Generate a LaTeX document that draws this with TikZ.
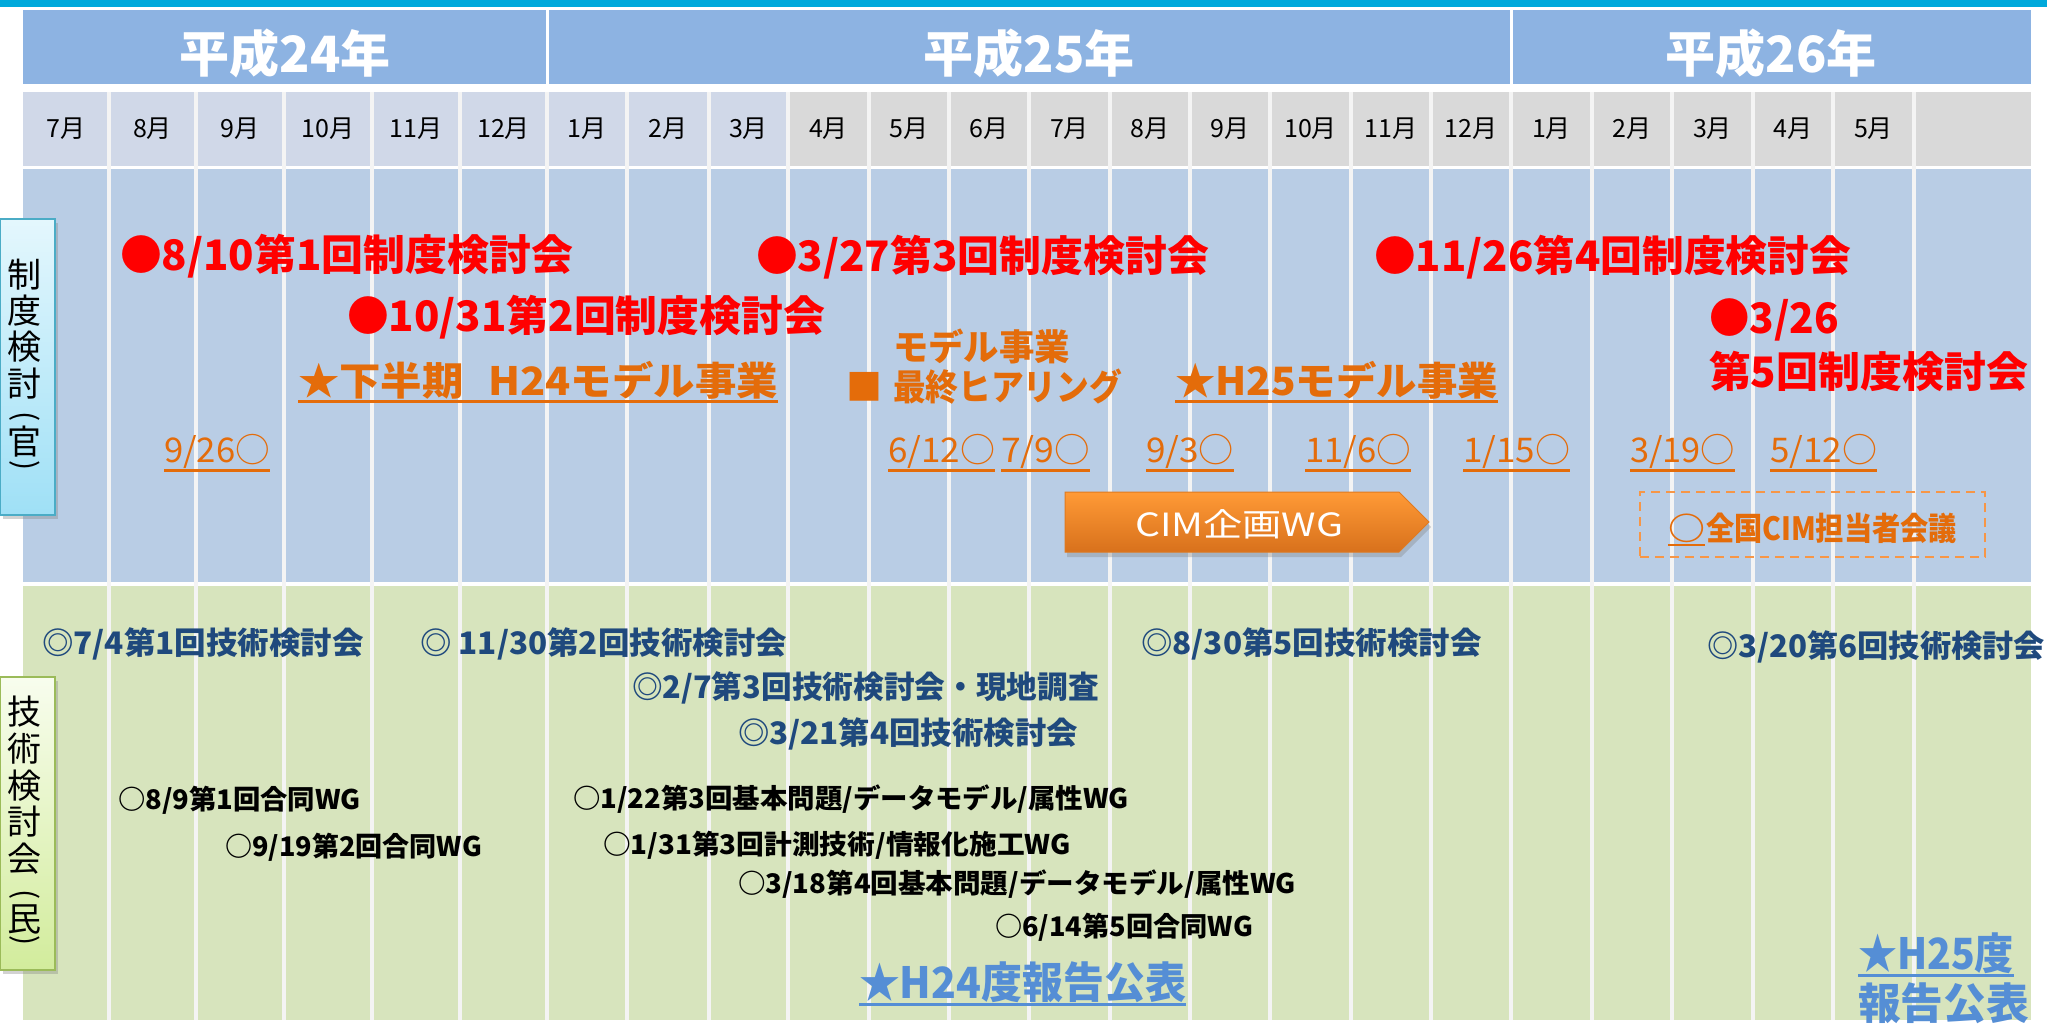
\documentclass[tikz,border=0pt]{standalone}
\usepackage{fontspec}
\usepackage{graphicx}
\setmainfont{Noto Sans CJK JP}
\usetikzlibrary{shadows,calc}
\definecolor{cyanbar}{HTML}{00A9DB}
\definecolor{hdr}{HTML}{8DB3E2}
\definecolor{monA}{HTML}{D0D8E8}
\definecolor{monB}{HTML}{D9D9D9}
\definecolor{bandA}{HTML}{B9CDE5}
\definecolor{bandB}{HTML}{D7E4BD}
\definecolor{sepc}{HTML}{F4F4F4}
\definecolor{jred}{HTML}{FF0000}
\definecolor{jorange}{HTML}{E46C0A}
\definecolor{jblue}{HTML}{1F497D}
\definecolor{jlblue}{HTML}{558ED5}
\definecolor{dashor}{HTML}{F79646}
\definecolor{sideAtop}{HTML}{E4F7FD}
\definecolor{sideAbot}{HTML}{9FE0F6}
\definecolor{sideAbd}{HTML}{4BACC6}
\definecolor{sideBtop}{HTML}{F8FDEE}
\definecolor{sideBbot}{HTML}{D2EC9C}
\definecolor{sideBbd}{HTML}{9BBB59}
\definecolor{arrtop}{HTML}{FF9A36}
\definecolor{arrbot}{HTML}{D8711C}
\definecolor{arrbd}{HTML}{E07A20}
\newcommand\fitw[2]{\resizebox{#1pt}{\height}{#2}}
\newcommand\vparen[1]{\rotatebox{-90}{#1}}
\begin{document}
\begin{tikzpicture}[x=1pt,y=-1pt,
  txt/.style={inner sep=0pt, outer sep=0pt, anchor=west},
  redt/.style={txt, text=jred, font=\fontsize{42}{46}\selectfont\bfseries},
  orbig/.style={txt, text=jorange, font=\fontsize{39}{43}\selectfont\bfseries},
  ormid/.style={txt, text=jorange, font=\fontsize{36}{40}\selectfont\bfseries},
  ordate/.style={txt, text=jorange, font=\fontsize{34}{38}\selectfont},
  bluet/.style={txt, text=jblue, font=\fontsize{31}{35}\selectfont\bfseries},
  blackt/.style={txt, text=black, font=\fontsize{27}{30}\selectfont\bfseries},
  lbluet/.style={txt, text=jlblue, font=\fontsize{43}{47}\selectfont\bfseries},
  yeart/.style={inner sep=0pt, text=white, font=\fontsize{50}{54}\selectfont\bfseries},
  mont/.style={inner sep=0pt, text=black, font=\fontsize{25}{28}\selectfont},
  sidet/.style={inner sep=0pt, text=black, font=\fontsize{34}{36}\selectfont},
  parent/.style={inner sep=0pt, text=black, font=\fontsize{30}{32}\selectfont},
  uline/.style={line width=2.5pt},
  sidebox/.style={minimum width=55pt, inner sep=0pt, line width=2pt,
     drop shadow={shadow xshift=3pt, shadow yshift=-4pt, opacity=0.35}},
]
\useasboundingbox (0,0) rectangle (2047,1023);
\fill[white] (0,0) rectangle (2047,1023);
% top bar
\fill[cyanbar] (0,0) rectangle (2047,7);
% header row
\fill[hdr] (23,10) rectangle (2031,84);
\draw[white, line width=3pt] (547,10) -- (547,84) (1511,10) -- (1511,84);
% month row
\fill[monA] (23,92) rectangle (788,166);
\fill[monB] (788,92) rectangle (2031,166);
% bands
\fill[bandA] (23,169) rectangle (2031,582);
\fill[bandB] (23,586) rectangle (2031,1020);
% column separators
\foreach \x in {109,196,284,372,460,547,627,709,788,869,949,1029,1110,1190,1270,1351,1431,1511,1592,1672,1753,1833,1914}
  \draw[sepc, line width=3.5pt] (\x,92) -- (\x,1020);
% year labels
\node[yeart] (y24) at (285,53) {平成24年};
\node[yeart] (y25) at (1029,53) {平成25年};
\node[yeart] (y26) at (1771,53) {平成26年};
% month labels
\foreach \x/\t [count=\i] in {66/7,152.5/8,240/9,328/10,416/11,503.5/12,587/1,668/2,748.5/3,828.5/4,909/5,989/6,1069.5/7,1150/8,1230/9,1310.5/10,1391/11,1471/12,1551.5/1,1632/2,1712.5/3,1793/4,1873.5/5}
  \node[mont] (m\i) at (\x,129) {\t 月};

% side label boxes
\node[sidebox, draw=sideAbd, top color=sideAtop, bottom color=sideAbot, minimum height=296pt] (sideA) at (27.5,367) {};
\node[sidet] (sa1) at (25,275) {制};
\node[sidet] (sa2) at (25,311) {度};
\node[sidet] (sa3) at (25,347) {検};
\node[sidet] (sa4) at (25,384) {討};
\node[parent] (sa5) at (25,417) {\vparen{(}};
\node[sidet] (sa6) at (25,442) {官};
\node[parent] (sa7) at (25,466) {\vparen{)}};
\node[sidebox, draw=sideBbd, top color=sideBtop, bottom color=sideBbot, minimum height=293pt] (sideB) at (27.5,823.5) {};
\node[sidet] (sb1) at (25,712) {技};
\node[sidet] (sb2) at (25,749) {術};
\node[sidet] (sb3) at (25,786) {検};
\node[sidet] (sb4) at (25,822) {討};
\node[sidet] (sb5) at (25,859) {会};
\node[parent] (sb6) at (25,895) {\vparen{(}};
\node[sidet] (sb7) at (25,919) {民};
\node[parent] (sb8) at (25,941) {\vparen{)}};

% red meetings
\node[redt] (r1) at (120,256) {\fitw{453}{●8/10第1回制度検討会}};
\node[redt] (r2) at (347,317) {\fitw{478}{●10/31第2回制度検討会}};
\node[redt] (r3) at (756,257) {\fitw{453}{●3/27第3回制度検討会}};
\node[redt] (r4) at (1374,257) {\fitw{477}{●11/26第4回制度検討会}};
\node[redt] (r5) at (1709,320) {\fitw{130}{●3/26}};
\node[redt] (r6) at (1709,371) {\fitw{319}{第5回制度検討会}};

% orange model project
\node[orbig] (o1) at (298,380) {\fitw{480}{★下半期\hspace{0.6em}H24モデル事業}};
\node[orbig] (o2) at (1175,380) {\fitw{323}{★H25モデル事業}};
\node[ormid] (o3) at (846,387) {■};
\node[ormid] (o4) at (893,346) {\fitw{177}{モデル事業}};
\node[ormid] (o5) at (893,387) {\fitw{229}{最終ヒアリング}};

% orange dates
\node[ordate] (d1) at (164,451) {\fitw{106}{9/26○}};
\node[ordate] (d2) at (888,451) {\fitw{107}{6/12○}};
\node[ordate] (d3) at (1001,451) {\fitw{89}{7/9○}};
\node[ordate] (d4) at (1146,451) {\fitw{88}{9/3○}};
\node[ordate] (d5) at (1305,451) {\fitw{106}{11/6○}};
\node[ordate] (d6) at (1463,451) {\fitw{107}{1/15○}};
\node[ordate] (d7) at (1630,451) {\fitw{105}{3/19○}};
\node[ordate] (d8) at (1770,451) {\fitw{107}{5/12○}};
\foreach \n in {o1,o2,d1,d2,d3,d4,d5,d6,d7,d8}
  \draw[jorange, uline] ([yshift=-2.5pt]\n.south west) -- ([yshift=-2.5pt]\n.south east);

% CIM arrow
\path[draw=arrbd, line width=1pt, top color=arrtop, bottom color=arrbot,
      drop shadow={shadow xshift=2pt, shadow yshift=-5pt, opacity=0.35}]
  (1065,492) -- (1399,492) -- (1429,522) -- (1399,552) -- (1065,552) -- cycle;
\node[txt, text=white, font=\fontsize{32}{35}\selectfont] (cim) at (1135,524) {\fitw{208}{CIM企画WG}};

% dashed box
\node[draw=dashor, dash pattern=on 9pt off 6pt, line width=2.5pt, minimum width=345pt, minimum height=65pt, inner sep=0pt] (dbox) at (1812.5,524.5) {};
\node[txt, text=jorange, font=\fontsize{32}{36}\selectfont\bfseries] (zc) at (1668,528) {\fitw{37}{○}};
\node[txt, text=jorange, font=\fontsize{32}{36}\selectfont\bfseries] (zt) at (1706,528) {\fitw{251}{全国CIM担当者会議}};
\draw[jorange, uline] ([yshift=-2.5pt]zc.south west) -- ([yshift=-2.5pt]zc.south east);

% technical meetings (blue)
\node[bluet] (b1) at (42,644) {\fitw{322}{◎7/4第1回技術検討会}};
\node[bluet] (b2) at (420,644) {\fitw{367}{◎ 11/30第2回技術検討会}};
\node[bluet] (b3) at (632,688) {\fitw{467}{◎2/7第3回技術検討会・現地調査}};
\node[bluet] (b4) at (738,734) {\fitw{340}{◎3/21第4回技術検討会}};
\node[bluet] (b5) at (1141,644) {\fitw{341}{◎8/30第5回技術検討会}};
\node[bluet] (b6) at (1707,647) {\fitw{338}{◎3/20第6回技術検討会}};

% WG (black)
\node[blackt] (k1) at (118,800) {\fitw{243}{○8/9第1回合同WG}};
\node[blackt] (k2) at (225,847) {\fitw{257}{○9/19第2回合同WG}};
\node[blackt] (k3) at (573,799) {\fitw{556}{○1/22第3回基本問題/データモデル/属性WG}};
\node[blackt] (k4) at (603,845) {\fitw{468}{○1/31第3回計測技術/情報化施工WG}};
\node[blackt] (k5) at (738,884) {\fitw{558}{○3/18第4回基本問題/データモデル/属性WG}};
\node[blackt] (k6) at (995,927) {\fitw{258}{○6/14第5回合同WG}};

% reports
\node[lbluet] (l1) at (859,982) {\fitw{327}{★H24度報告公表}};
\node[lbluet] (l2) at (1858,953) {\fitw{156}{★H25度}};
\node[lbluet] (l3) at (1858,1003) {\fitw{171}{報告公表}};
\foreach \n in {l1,l2}
  \draw[jlblue, uline] ([yshift=-2pt]\n.south west) -- ([yshift=-2pt]\n.south east);
\end{tikzpicture}
\end{document}
